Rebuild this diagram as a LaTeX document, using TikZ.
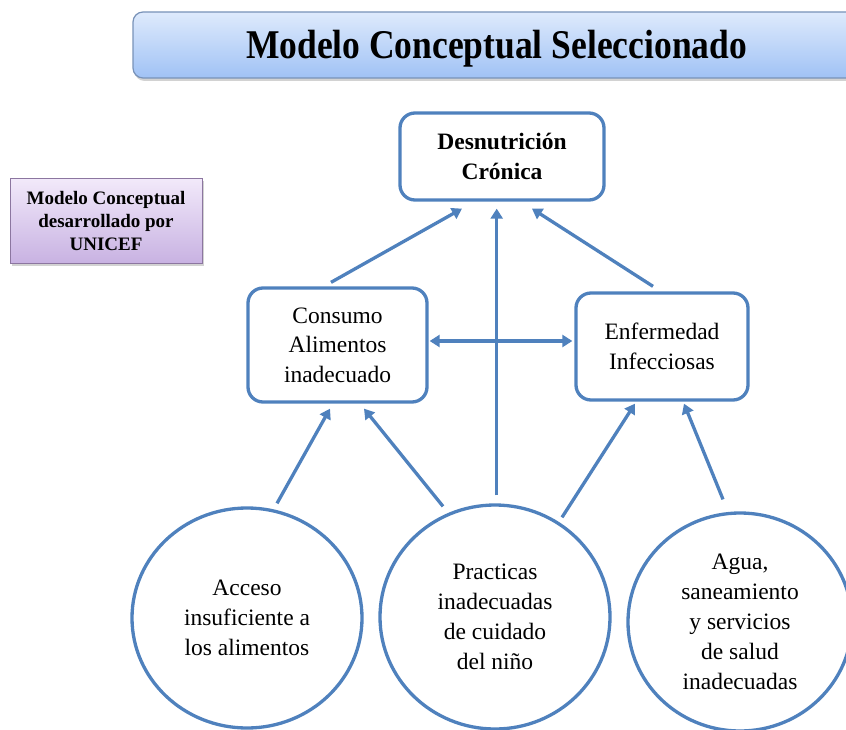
\documentclass[tikz,border=0pt]{standalone}
\usepackage{fontspec}
\setmainfont{Liberation Serif}
\usetikzlibrary{arrows.meta,calc,shapes.geometric,shadows}
\definecolor{bl}{RGB}{79,129,189}
\definecolor{titletop}{RGB}{222,234,252}
\definecolor{titlebot}{RGB}{160,194,245}
\definecolor{titleline}{RGB}{120,146,184}
\definecolor{purtop}{RGB}{242,233,250}
\definecolor{purbot}{RGB}{200,178,226}
\definecolor{purline}{RGB}{140,118,160}
\begin{document}
\begin{tikzpicture}[x=1pt,y=-1pt,
  box/.style={draw=bl, line width=3.3pt, rounded corners=15pt, fill=white, align=center, inner sep=0pt,
    font=\fontsize{23.5}{29.5}\selectfont},
  circ/.style={draw=bl, line width=3.3pt, ellipse, fill=white, align=center, inner sep=0pt,
    font=\fontsize{23.5}{30}\selectfont},
  arr/.style={draw=bl, line width=3.3pt, -{Triangle[length=10pt,width=12pt]}},
  darr/.style={draw=bl, line width=3.3pt, {Triangle[length=10pt,width=12pt]}-{Triangle[length=10pt,width=12pt]}}]
\useasboundingbox (0,0) rectangle (846,730);

% title
\node[draw=titleline, line width=1.2pt, rounded corners=10pt, top color=titletop, bottom color=titlebot,
  minimum width=727pt, minimum height=66pt, inner sep=0pt,
  drop shadow={shadow xshift=1.5pt, shadow yshift=-3pt, fill=black!35, opacity=0.5}]
  (title) at (496.5,45) {\smash{\raisebox{-14pt}{\scalebox{1}[1.15]{\fontsize{35.5}{40}\selectfont\bfseries Modelo Conceptual Seleccionado}}}};

% side label
\node[draw=purline, line width=1pt, top color=purtop, bottom color=purbot,
  minimum width=192pt, minimum height=84pt, inner sep=0pt, align=center,
  font=\fontsize{19}{23}\selectfont\bfseries,
  drop shadow={shadow xshift=1.5pt, shadow yshift=-2.5pt, fill=black!35, opacity=0.5}]
  (unicef) at (106,221) {Modelo Conceptual\\desarrollado por\\UNICEF};

% boxes
\node[box, minimum width=204pt, minimum height=87pt, font=\fontsize{23.5}{30}\selectfont\bfseries]
  (desn) at (502,156.5) {Desnutrición\\Crónica};
\node[box, minimum width=179pt, minimum height=114pt] (cons) at (337.5,345) {Consumo\\Alimentos\\inadecuado};
\node[box, minimum width=172pt, minimum height=107pt] (enf) at (662,346.5) {Enfermedad\\Infecciosas};

% ellipses
\node[circ, minimum width=230pt, minimum height=220pt] (left) at (247,618) {Acceso\\insuficiente a\\los alimentos};
\node[circ, minimum width=230pt, minimum height=224pt] (mid) at (495,617) {Practicas\\inadecuadas\\de cuidado\\del niño};
\node[circ, minimum width=224pt, minimum height=218pt] (right) at (740,622) {Agua,\\saneamiento\\y servicios\\de salud\\inadecuadas};

% connectors
\draw[arr] ($(cons.north)+(-6.5,-4)$) -- ($(desn.south)+(-40,7)$);
\draw[arr] ($(enf.north)+(-9,-5)$) -- ($(desn.south)+(30,7)$);
\draw[arr] ($(mid.north)+(1.7,-8)$) -- ($(desn.south)+(-5.3,7)$);
\draw[darr] ($(cons.east)+(1,-4)$) -- ($(enf.west)+(-2,-5.5)$);
\draw[arr] ($(left.north)+(30,-3)$) -- ($(cons.south)+(-7.5,5)$);
\draw[arr] ($(mid.north)+(-52,3)$) -- ($(cons.south)+(26.5,5)$);
\draw[arr] ($(mid.north)+(67,14)$) -- ($(enf.south)+(-27,2)$);
\draw[arr] ($(right.north)+(-17,-12)$) -- ($(enf.south)+(22,2)$);
\end{tikzpicture}
\end{document}
